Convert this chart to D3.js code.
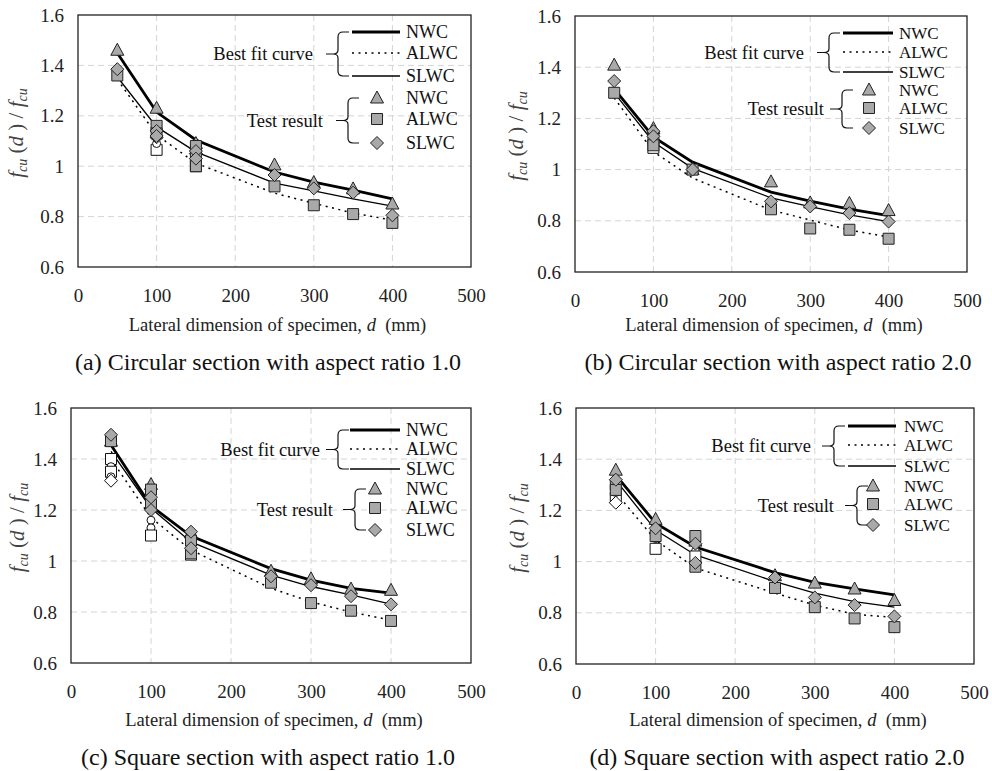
<!doctype html>
<html lang="en">
<head>
<meta charset="utf-8">
<title>Size effect</title>
<script src="https://d3js.org/d3.v7.min.js"></script>
<style>
  body { margin: 0; background: #fff; }
  svg, svg text { font-family: "Liberation Serif", "Times New Roman", serif; }
</style>
</head>
<body>
<svg id="chart" width="992" height="771"></svg>
<script>
  // lateral dimension d (mm) of the fitted curves
  const sizes = [50, 100, 150, 250, 300, 350, 400];
  const series = ['NWC', 'ALWC', 'SLWC'];
  const xTicks = [0, 100, 200, 300, 400, 500];
  const yTicks = [0.6, 0.8, 1, 1.2, 1.4, 1.6];

  // best fit curves
  const fitA_NWC  = [1.449, 1.215, 1.104, 0.977, 0.937, 0.905, 0.870];
  const fitA_ALWC = [1.345, 1.124, 1.012, 0.893, 0.853, 0.814, 0.786];
  const fitA_SLWC = [1.354, 1.156, 1.057, 0.933, 0.902, 0.870, 0.842];
  const fitB_NWC  = [1.315, 1.128, 1.029, 0.912, 0.877, 0.846, 0.820];
  const fitB_ALWC = [1.280, 1.070, 0.967, 0.842, 0.803, 0.764, 0.737];
  const fitB_SLWC = [1.300, 1.108, 1.005, 0.890, 0.855, 0.823, 0.797];
  const fitC_NWC  = [1.455, 1.216, 1.098, 0.970, 0.925, 0.893, 0.874];
  const fitC_ALWC = [1.400, 1.170, 1.043, 0.893, 0.840, 0.800, 0.768];
  const fitC_SLWC = [1.430, 1.207, 1.075, 0.945, 0.900, 0.867, 0.831];
  const fitD_NWC  = [1.338, 1.150, 1.057, 0.957, 0.919, 0.893, 0.870];
  const fitD_ALWC = [1.270, 1.084, 0.975, 0.877, 0.830, 0.794, 0.782];
  const fitD_SLWC = [1.318, 1.123, 1.026, 0.922, 0.877, 0.844, 0.822];

  // test results [d, fcu(d)/fcu]
  const testA_NWC  = [[50,1.46],[100,1.23],[150,1.09],[250,1.005],[300,0.935],[350,0.91],[400,0.85]];
  const testA_ALWC = [[50,1.36],[100,1.16],[100,1.13],[150,1.08],[150,1.04],[150,1.0],[250,0.92],[300,0.845],[350,0.81],[400,0.775]];
  const testA_SLWC = [[50,1.385],[100,1.14],[100,1.12],[150,1.06],[150,1.03],[250,0.965],[300,0.912],[350,0.895],[400,0.805]];
  const testB_NWC  = [[50,1.408],[100,1.16],[150,1.0],[250,0.952],[300,0.87],[350,0.868],[400,0.84]];
  const testB_ALWC = [[50,1.30],[100,1.12],[100,1.095],[150,1.0],[250,0.845],[300,0.77],[350,0.765],[400,0.73]];
  const testB_SLWC = [[50,1.346],[100,1.15],[100,1.13],[150,1.0],[250,0.876],[300,0.856],[350,0.83],[400,0.797]];
  const testC_NWC  = [[50,1.47],[100,1.30],[150,1.11],[250,0.96],[300,0.93],[350,0.89],[400,0.885]];
  const testC_ALWC = [[50,1.47],[100,1.28],[100,1.22],[150,1.08],[150,1.03],[250,0.915],[300,0.835],[350,0.805],[400,0.765]];
  const testC_SLWC = [[50,1.495],[100,1.25],[100,1.20],[150,1.115],[150,1.05],[250,0.94],[300,0.905],[350,0.862],[400,0.83]];
  const testD_NWC  = [[50,1.357],[100,1.165],[150,1.08],[250,0.945],[300,0.916],[350,0.893],[400,0.848]];
  const testD_ALWC = [[50,1.30],[50,1.28],[100,1.10],[150,1.10],[150,0.98],[250,0.897],[300,0.822],[350,0.778],[400,0.744]];
  const testD_SLWC = [[50,1.32],[100,1.13],[150,1.07],[150,0.995],[250,0.938],[300,0.86],[350,0.83],[400,0.786]];

  // overlapping open (white) specimens in the clusters
  const openA = [[100,1.065,'square'],[100,1.09,'circle'],[100,1.115,'diamond'],[150,1.0,'square'],[150,1.02,'circle'],[150,1.05,'diamond'],[150,1.07,'circle']];
  const openB = [[100,1.085,'square'],[100,1.14,'circle'],[100,1.11,'diamond']];
  const openC = [[50,1.40,'square'],[50,1.37,'circle'],[50,1.35,'square'],[50,1.33,'circle'],[50,1.315,'diamond'],[100,1.16,'circle'],[100,1.13,'circle'],[100,1.10,'square'],[150,1.025,'square'],[150,1.06,'circle']];
  const openD = [[50,1.25,'square'],[50,1.23,'diamond'],[50,1.27,'circle'],[100,1.05,'square'],[100,1.09,'circle'],[150,1.04,'circle'],[150,1.02,'square']];

  const panels = [
    { plot: {x0: 78, x1: 471, y0: 15, y1: 267}, titleY: 331, capX: 268, capY: 370, ylabX: 23,
      caption: '(a) Circular section with aspect ratio 1.0',
      fit: [fitA_NWC, fitA_ALWC, fitA_SLWC], test: [testA_NWC, testA_ALWC, testA_SLWC], open: openA,
      leg: {fs: 18, b1: -136, t1: -158, r1: [17, 38, 61], lx: [-119, -71], lab: -65, b2: -126, t2: -148, r2: [83, 104, 128], mx: -94} },
    { plot: {x0: 575, x1: 967, y0: 16, y1: 272}, titleY: 331, capX: 778, capY: 370, ylabX: 523,
      caption: '(b) Circular section with aspect ratio 2.0',
      fit: [fitB_NWC, fitB_ALWC, fitB_SLWC], test: [testB_NWC, testB_ALWC, testB_SLWC], open: openB,
      leg: {fs: 17, b1: -141, t1: -163, r1: [17, 36, 56], lx: [-124, -74], lab: -68, b2: -128, t2: -143, r2: [74, 92, 112], mx: -98} },
    { plot: {x0: 71, x1: 471, y0: 408, y1: 663}, titleY: 726, capX: 268, capY: 765, ylabX: 24,
      caption: '(c) Square section with aspect ratio 1.0',
      fit: [fitC_NWC, fitC_ALWC, fitC_SLWC], test: [testC_NWC, testC_ALWC, testC_SLWC], open: openC,
      leg: {fs: 18, b1: -136, t1: -151, r1: [22, 41, 61], lx: [-121, -71], lab: -65, b2: -119, t2: -138, r2: [81, 100, 122], mx: -96} },
    { plot: {x0: 576, x1: 974, y0: 408, y1: 664}, titleY: 726, capX: 777, capY: 765, ylabX: 524,
      caption: '(d) Square section with aspect ratio 2.0',
      fit: [fitD_NWC, fitD_ALWC, fitD_SLWC], test: [testD_NWC, testD_ALWC, testD_SLWC], open: openD,
      leg: {fs: 17, b1: -143, t1: -163, r1: [18, 37, 58], lx: [-126, -78], lab: -70, b2: -120, t2: -140, r2: [78, 96, 117], mx: -101} }
  ];

  const lineStyle = {
    NWC:  {w: 2.8, dash: null},
    ALWC: {w: 1.5, dash: '2,4.5'},
    SLWC: {w: 1.3, dash: null}
  };
  const markFill = '#a9a9a9';
  const serif = '"Liberation Serif", "Times New Roman", serif';

  const shapes = {
    triangle: 'M0,-7L6.5,5L-6.5,5Z',
    square:   'M-5.5,-5.5H5.5V5.5H-5.5Z',
    diamond:  'M0,-6.5L6.5,0L0,6.5L-6.5,0Z',
    circle:   d3.symbol(d3.symbolCircle, 50)()
  };
  const markShape = {NWC: 'triangle', ALWC: 'square', SLWC: 'diamond'};

  const svg = d3.select('#chart');

  function brace(g, x, yTop, yBot) {
    const m = (yTop + yBot) / 2;
    g.append('path')
      .attr('d', `M${x + 14},${yTop} L${x + 8},${yTop} Q${x + 3},${yTop} ${x + 3},${yTop + 5}` +
        ` L${x + 3},${m - 4} Q${x + 3},${m} ${x - 2},${m} Q${x + 3},${m} ${x + 3},${m + 4}` +
        ` L${x + 3},${yBot - 5} Q${x + 3},${yBot} ${x + 8},${yBot} L${x + 14},${yBot}` +
        ` M${x - 2},${m} L${x - 9},${m}`)
      .attr('fill', 'none')
      .attr('stroke', '#111')
      .attr('stroke-width', 1.2);
  }

  // serif tick labels instead of the axis' default sans-serif
  const serifAxis = a => a.attr('font-family', serif).attr('font-size', 19)
    .call(s => s.select('.domain').remove())
    .call(s => s.selectAll('.tick text').attr('fill', '#222').style('font-family', serif));

  panels.forEach(p => {
    const {x0, x1, y0, y1} = p.plot;
    const x = d3.scaleLinear().domain([0, 500]).range([x0, x1]);
    const y = d3.scaleLinear().domain([0.6, 1.6]).range([y1, y0]);
    const g = svg.append('g');

    // grid
    g.selectAll('line.vgrid')
      .data(xTicks.slice(1, -1))
      .enter().append('line')
      .attr('x1', d => x(d)).attr('x2', d => x(d))
      .attr('y1', y0).attr('y2', y1)
      .attr('stroke', '#d4d4d4').attr('stroke-dasharray', '6,4');
    g.selectAll('line.hgrid')
      .data(yTicks.slice(1, -1))
      .enter().append('line')
      .attr('x1', x0).attr('x2', x1)
      .attr('y1', d => y(d)).attr('y2', d => y(d))
      .attr('stroke', '#d4d4d4').attr('stroke-dasharray', '6,4');

    // axes
    g.append('g')
      .attr('transform', `translate(${x0},0)`)
      .call(d3.axisLeft(y).tickValues(yTicks).tickSize(0).tickPadding(14)
        .tickFormat(d => d === 1 ? '1' : d3.format('.1f')(d)))
      .call(serifAxis);
    g.append('g')
      .attr('transform', `translate(0,${y1})`)
      .call(d3.axisBottom(x).tickValues(xTicks).tickSize(0).tickPadding(22))
      .call(serifAxis);

    g.append('rect')
      .attr('x', x0).attr('y', y0)
      .attr('width', x1 - x0).attr('height', y1 - y0)
      .attr('fill', 'none').attr('stroke', '#222').attr('stroke-width', 1.3);

    // best fit curves
    const line = d3.line().x((d, i) => x(sizes[i])).y(d => y(d));
    series.forEach((s, k) => {
      g.append('path')
        .datum(p.fit[k])
        .attr('d', line)
        .attr('fill', 'none')
        .attr('stroke', '#000')
        .attr('stroke-width', lineStyle[s].w)
        .attr('stroke-dasharray', lineStyle[s].dash);
    });

    // open specimens
    g.selectAll('path.open')
      .data(p.open)
      .enter().append('path')
      .attr('d', d => shapes[d[2]])
      .attr('transform', d => `translate(${x(d[0])},${y(d[1])})`)
      .attr('fill', '#fff').attr('stroke', '#111').attr('stroke-width', 1);

    // test results
    series.forEach((s, k) => {
      g.selectAll(null)
        .data(p.test[k])
        .enter().append('path')
        .attr('d', shapes[markShape[s]])
        .attr('transform', d => `translate(${x(d[0])},${y(d[1])})`)
        .attr('fill', markFill).attr('stroke', '#222').attr('stroke-width', 1);
    });

    // axis titles
    const xt = g.append('text')
      .attr('x', (x0 + x1) / 2 + 3).attr('y', p.titleY)
      .attr('text-anchor', 'middle')
      .attr('font-size', 18.5).attr('fill', '#222');
    xt.append('tspan').text('Lateral dimension of specimen, ');
    xt.append('tspan').attr('font-style', 'italic').text('d');
    xt.append('tspan').text('\u2002(mm)');

    const yc = (y0 + y1) / 2 - 8;
    const yl = g.append('text')
      .attr('transform', `translate(${p.ylabX},${yc}) rotate(-90)`)
      .attr('text-anchor', 'middle')
      .attr('font-size', 21).attr('fill', '#444');
    yl.append('tspan').attr('font-style', 'italic').text('f');
    yl.append('tspan').attr('font-style', 'italic').attr('font-size', 14).attr('dy', 4).text('cu');
    yl.append('tspan').attr('dy', -4).text(' (');
    yl.append('tspan').attr('font-style', 'italic').text('d');
    yl.append('tspan').text(' ) / ');
    yl.append('tspan').attr('font-style', 'italic').text('f');
    yl.append('tspan').attr('font-style', 'italic').attr('font-size', 14).attr('dy', 4).text('cu');

    // caption
    g.append('text')
      .attr('x', p.capX).attr('y', p.capY)
      .attr('text-anchor', 'middle')
      .attr('font-size', 24).attr('fill', '#111')
      .text(p.caption);

    // legend
    const L = p.leg;
    g.append('text')
      .attr('x', x1 + L.t1).attr('y', y0 + (L.r1[0] + L.r1[2]) / 2 + 6)
      .attr('text-anchor', 'end').attr('font-size', 18.5).attr('fill', '#111')
      .text('Best fit curve');
    brace(g, x1 + L.b1, y0 + L.r1[0], y0 + L.r1[2]);
    series.forEach((s, k) => {
      g.append('line')
        .attr('x1', x1 + L.lx[0]).attr('x2', x1 + L.lx[1])
        .attr('y1', y0 + L.r1[k]).attr('y2', y0 + L.r1[k])
        .attr('stroke', '#000')
        .attr('stroke-width', lineStyle[s].w)
        .attr('stroke-dasharray', lineStyle[s].dash);
      g.append('text')
        .attr('x', x1 + L.lab).attr('y', y0 + L.r1[k] + 6)
        .attr('font-size', L.fs).attr('fill', '#111')
        .text(s);
    });

    g.append('text')
      .attr('x', x1 + L.t2).attr('y', y0 + (L.r2[0] + L.r2[2]) / 2 + 6)
      .attr('text-anchor', 'end').attr('font-size', 18.5).attr('fill', '#111')
      .text('Test result');
    brace(g, x1 + L.b2, y0 + L.r2[0], y0 + L.r2[2]);
    series.forEach((s, k) => {
      g.append('path')
        .attr('d', shapes[markShape[s]])
        .attr('transform', `translate(${x1 + L.mx},${y0 + L.r2[k]})`)
        .attr('fill', markFill).attr('stroke', '#222').attr('stroke-width', 1);
      g.append('text')
        .attr('x', x1 + L.lab).attr('y', y0 + L.r2[k] + 6)
        .attr('font-size', L.fs).attr('fill', '#111')
        .text(s);
    });
  });
</script>
</body>
</html>
